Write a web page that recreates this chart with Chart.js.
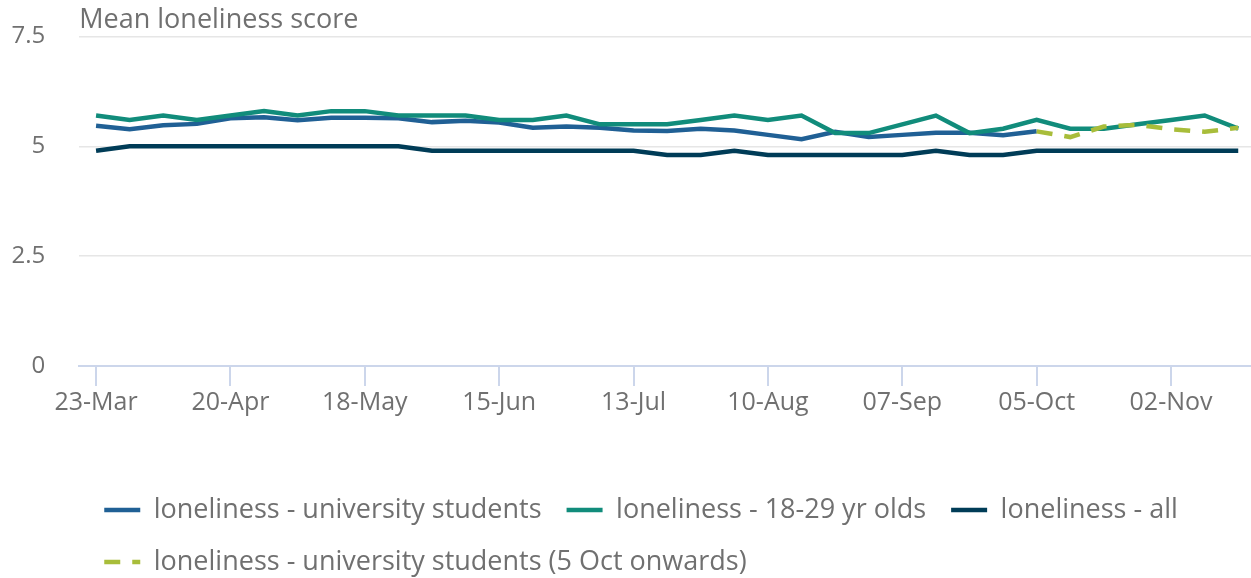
<!DOCTYPE html>
<html><head><meta charset="utf-8">
<script src="https://cdn.jsdelivr.net/npm/chart.js@4/dist/chart.umd.min.js"></script>
<style>html,body{margin:0;padding:0;background:#fff}#wrap{width:1251px;height:578px;position:relative}</style>
</head><body><div id="wrap"><canvas id="c"></canvas></div>
<script>
const categories = ['23-Mar','30-Mar','06-Apr','13-Apr','20-Apr','27-Apr','04-May','11-May','18-May','25-May',
  '01-Jun','08-Jun','15-Jun','22-Jun','29-Jun','06-Jul','13-Jul','20-Jul','27-Jul','03-Aug',
  '10-Aug','17-Aug','24-Aug','31-Aug','07-Sep','14-Sep','21-Sep','28-Sep','05-Oct','12-Oct',
  '19-Oct','26-Oct','02-Nov','09-Nov','16-Nov'];
const seriesNames = ['loneliness - university students','loneliness - 18-29 yr olds','loneliness - all','loneliness - university students (5 Oct onwards)'];
const uniStudents = [5.47,5.39,5.48,5.51,5.64,5.66,5.59,5.65,5.65,5.64,
  5.55,5.58,5.54,5.42,5.45,5.42,5.36,5.35,5.40,5.36,
  5.26,5.16,5.33,5.21,5.26,5.31,5.31,5.25,5.34,null,
  null,null,null,null,null];
const age18to29 = [5.7,5.6,5.7,5.6,5.7,5.8,5.7,5.8,5.8,5.7,
  5.7,5.7,5.6,5.6,5.7,5.5,5.5,5.5,5.6,5.7,
  5.6,5.7,5.3,5.3,5.5,5.7,5.3,5.4,5.6,5.4,
  5.4,5.5,5.6,5.7,5.4];
const allAdults = [4.9,5.0,5.0,5.0,5.0,5.0,5.0,5.0,5.0,5.0,
  4.9,4.9,4.9,4.9,4.9,4.9,4.9,4.8,4.8,4.9,
  4.8,4.8,4.8,4.8,4.8,4.9,4.8,4.8,4.9,4.9,
  4.9,4.9,4.9,4.9,4.9];
const uniStudentsOct = [null,null,null,null,null,null,null,null,null,null,
  null,null,null,null,null,null,null,null,null,null,
  null,null,null,null,null,null,null,null,5.34,5.21,
  5.45,5.49,5.39,5.33,5.42];
const yTicks = [0, 2.5, 5, 7.5];
const xTickEvery = 4;

const toPoints = arr => arr.map((v, i) => ({x: i, y: v}));
Chart.defaults.font.family = "'Open Sans', sans-serif";
const LINE_W = 4.5;

new Chart(document.getElementById('c'), {
  type: 'line',
  data: {
    datasets: [
      {label: seriesNames[0], data: toPoints(uniStudents), borderColor: '#206095', backgroundColor: '#206095', order: 3},
      {label: seriesNames[1], data: toPoints(age18to29), borderColor: '#118c7b', backgroundColor: '#118c7b', order: 2},
      {label: seriesNames[2], data: toPoints(allAdults), borderColor: '#003c57', backgroundColor: '#003c57', order: 1},
      {label: seriesNames[3], data: toPoints(uniStudentsOct), borderColor: '#a8bd3a', backgroundColor: '#a8bd3a', borderDash: [16, 12], order: 0}
    ]
  },
  options: {
    animation: false, responsive: true, maintainAspectRatio: false,
    layout: {padding: {left: 11.5, right: 0, top: 0, bottom: -7.5}},
    elements: {point: {radius: 0, hoverRadius: 0}, line: {tension: 0, borderWidth: LINE_W, fill: false}},
    plugins: {
      title: {display: true, text: 'Mean loneliness score', align: 'start', fullSize: false, color: '#707070',
        font: {size: 27, weight: 'normal'}, padding: {top: 4, bottom: 0}},
      legend: {position: 'bottom', align: 'start', fullSize: false,
        labels: {usePointStyle: true, pointStyle: 'line', pointStyleWidth: 36, padding: 25, color: '#707070',
          font: {size: 27},
          generateLabels: chart => {
            const items = Chart.defaults.plugins.legend.labels.generateLabels(chart);
            items.forEach(it => {
              const ds = chart.data.datasets[it.datasetIndex];
              it.lineWidth = LINE_W;
              it.lineDash = ds.borderDash || [];
              it.strokeStyle = ds.borderColor;
              it.fillStyle = ds.borderColor;
              it.pointStyle = 'line';
            });
            return items;
          },
          sort: (a, b) => a.datasetIndex - b.datasetIndex}},
      tooltip: {enabled: false}
    },
    scales: {
      x: {type: 'linear', min: -0.5, max: 34.38,
        border: {color: '#ccd6eb', width: 2},
        grid: {drawOnChartArea: false, drawTicks: true, tickLength: 20, color: '#ccd6eb', lineWidth: 2},
        ticks: {stepSize: xTickEvery, includeBounds: false, maxTicksLimit: 20, padding: 2, color: '#707070',
          font: {size: 25}, maxRotation: 0, autoSkip: false, callback: v => categories[v]},
        title: {display: true, text: '', font: {size: 12}, padding: {top: 37, bottom: 0}},
        afterFit: s => { s.paddingLeft = 0; s.paddingRight = 0; }},
      y: {min: yTicks[0], max: yTicks[yTicks.length - 1],
        border: {display: false},
        grid: {color: '#e6e6e6', lineWidth: 1.5, drawTicks: true, tickLength: 34, tickColor: 'rgba(0,0,0,0)'},
        ticks: {stepSize: yTicks[1] - yTicks[0], padding: 0, color: '#707070', font: {size: 24}}}
    }
  }
});
</script>
</body></html>
